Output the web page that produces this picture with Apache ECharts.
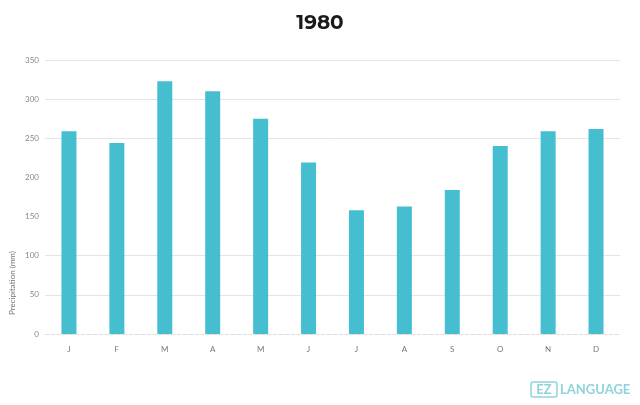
<!DOCTYPE html>
<html>
<head>
<meta charset="utf-8">
<script src="https://cdn.jsdelivr.net/npm/echarts@6/dist/echarts.min.js"></script>
<style>html,body{margin:0;padding:0;background:#fff;}#c{width:640px;height:405px;}</style>
</head>
<body>
<div id="c"></div>
<script>
var categories = ['J','F','M','A','M','J','J','A','S','O','N','D'];
var precipitation = [259, 244, 323, 310, 275, 219, 158, 163, 184, 240, 259, 262];
var yTicks = [0, 50, 100, 150, 200, 250, 300, 350];
var visibleGridLines = [50, 100, 250, 300, 350];
var titleText = '1980';
var yName = 'Precipitation (mm)';

var chart = echarts.init(document.getElementById('c'));
chart.setOption({
  animation: false,
  backgroundColor: '#fff',
  title: {
    text: titleText, left: 'center', top: 8,
    textStyle: { fontFamily: 'Montserrat, Lato, sans-serif', fontSize: 20, fontWeight: 'bold', color: '#1a1a1a' }
  },
  grid: { left: 45, right: 20, top: 60, bottom: 71 },
  xAxis: {
    type: 'category', data: categories,
    axisLine: { show: true, lineStyle: { color: '#dddddd', type: 'dashed' } },
    axisTick: { show: false },
    axisLabel: { color: '#777', fontSize: 8, margin: 11, fontFamily: 'Lato, sans-serif' }
  },
  yAxis: {
    type: 'value', min: yTicks[0], max: yTicks[yTicks.length - 1], interval: 50,
    axisLine: { show: false }, axisTick: { show: false },
    axisLabel: { color: '#888', fontSize: 8, margin: 6, fontFamily: 'Lato, sans-serif' },
    splitLine: { show: false }
  },
  graphic: [
    {
      type: 'text', x: 12, y: 283, rotation: Math.PI / 2,
      style: { text: yName, fill: '#777', fontSize: 8, fontFamily: 'Lato, sans-serif', textAlign: 'center', textVerticalAlign: 'middle' }
    },
    {
      type: 'rect', shape: { x: 531, y: 382, width: 26, height: 15, r: 2 },
      style: { fill: 'none', stroke: '#8fd3dd', lineWidth: 1.5 }
    },
    {
      type: 'text', x: 544, y: 390,
      style: { text: 'EZ', fill: '#8fd3dd', fontSize: 13, fontWeight: 'bold', fontFamily: 'Lato, sans-serif', textAlign: 'center', textVerticalAlign: 'middle' }
    },
    {
      type: 'text', x: 560, y: 390,
      style: { text: 'LANGUAGE', fill: '#8fd3dd', fontSize: 13, fontWeight: 'bold', fontFamily: 'Lato, sans-serif', textAlign: 'left', textVerticalAlign: 'middle' }
    }
  ],
  series: [{
    type: 'bar', data: precipitation, barWidth: 15,
    itemStyle: { color: '#45bfcf' },
    markLine: {
      silent: true, symbol: ['none', 'none'], z: 0,
      label: { show: false },
      lineStyle: { color: '#e4e4e4', type: 'solid', width: 1 },
      data: visibleGridLines.map(function (v) { return { yAxis: v }; })
    }
  }]
});
</script>
</body>
</html>
